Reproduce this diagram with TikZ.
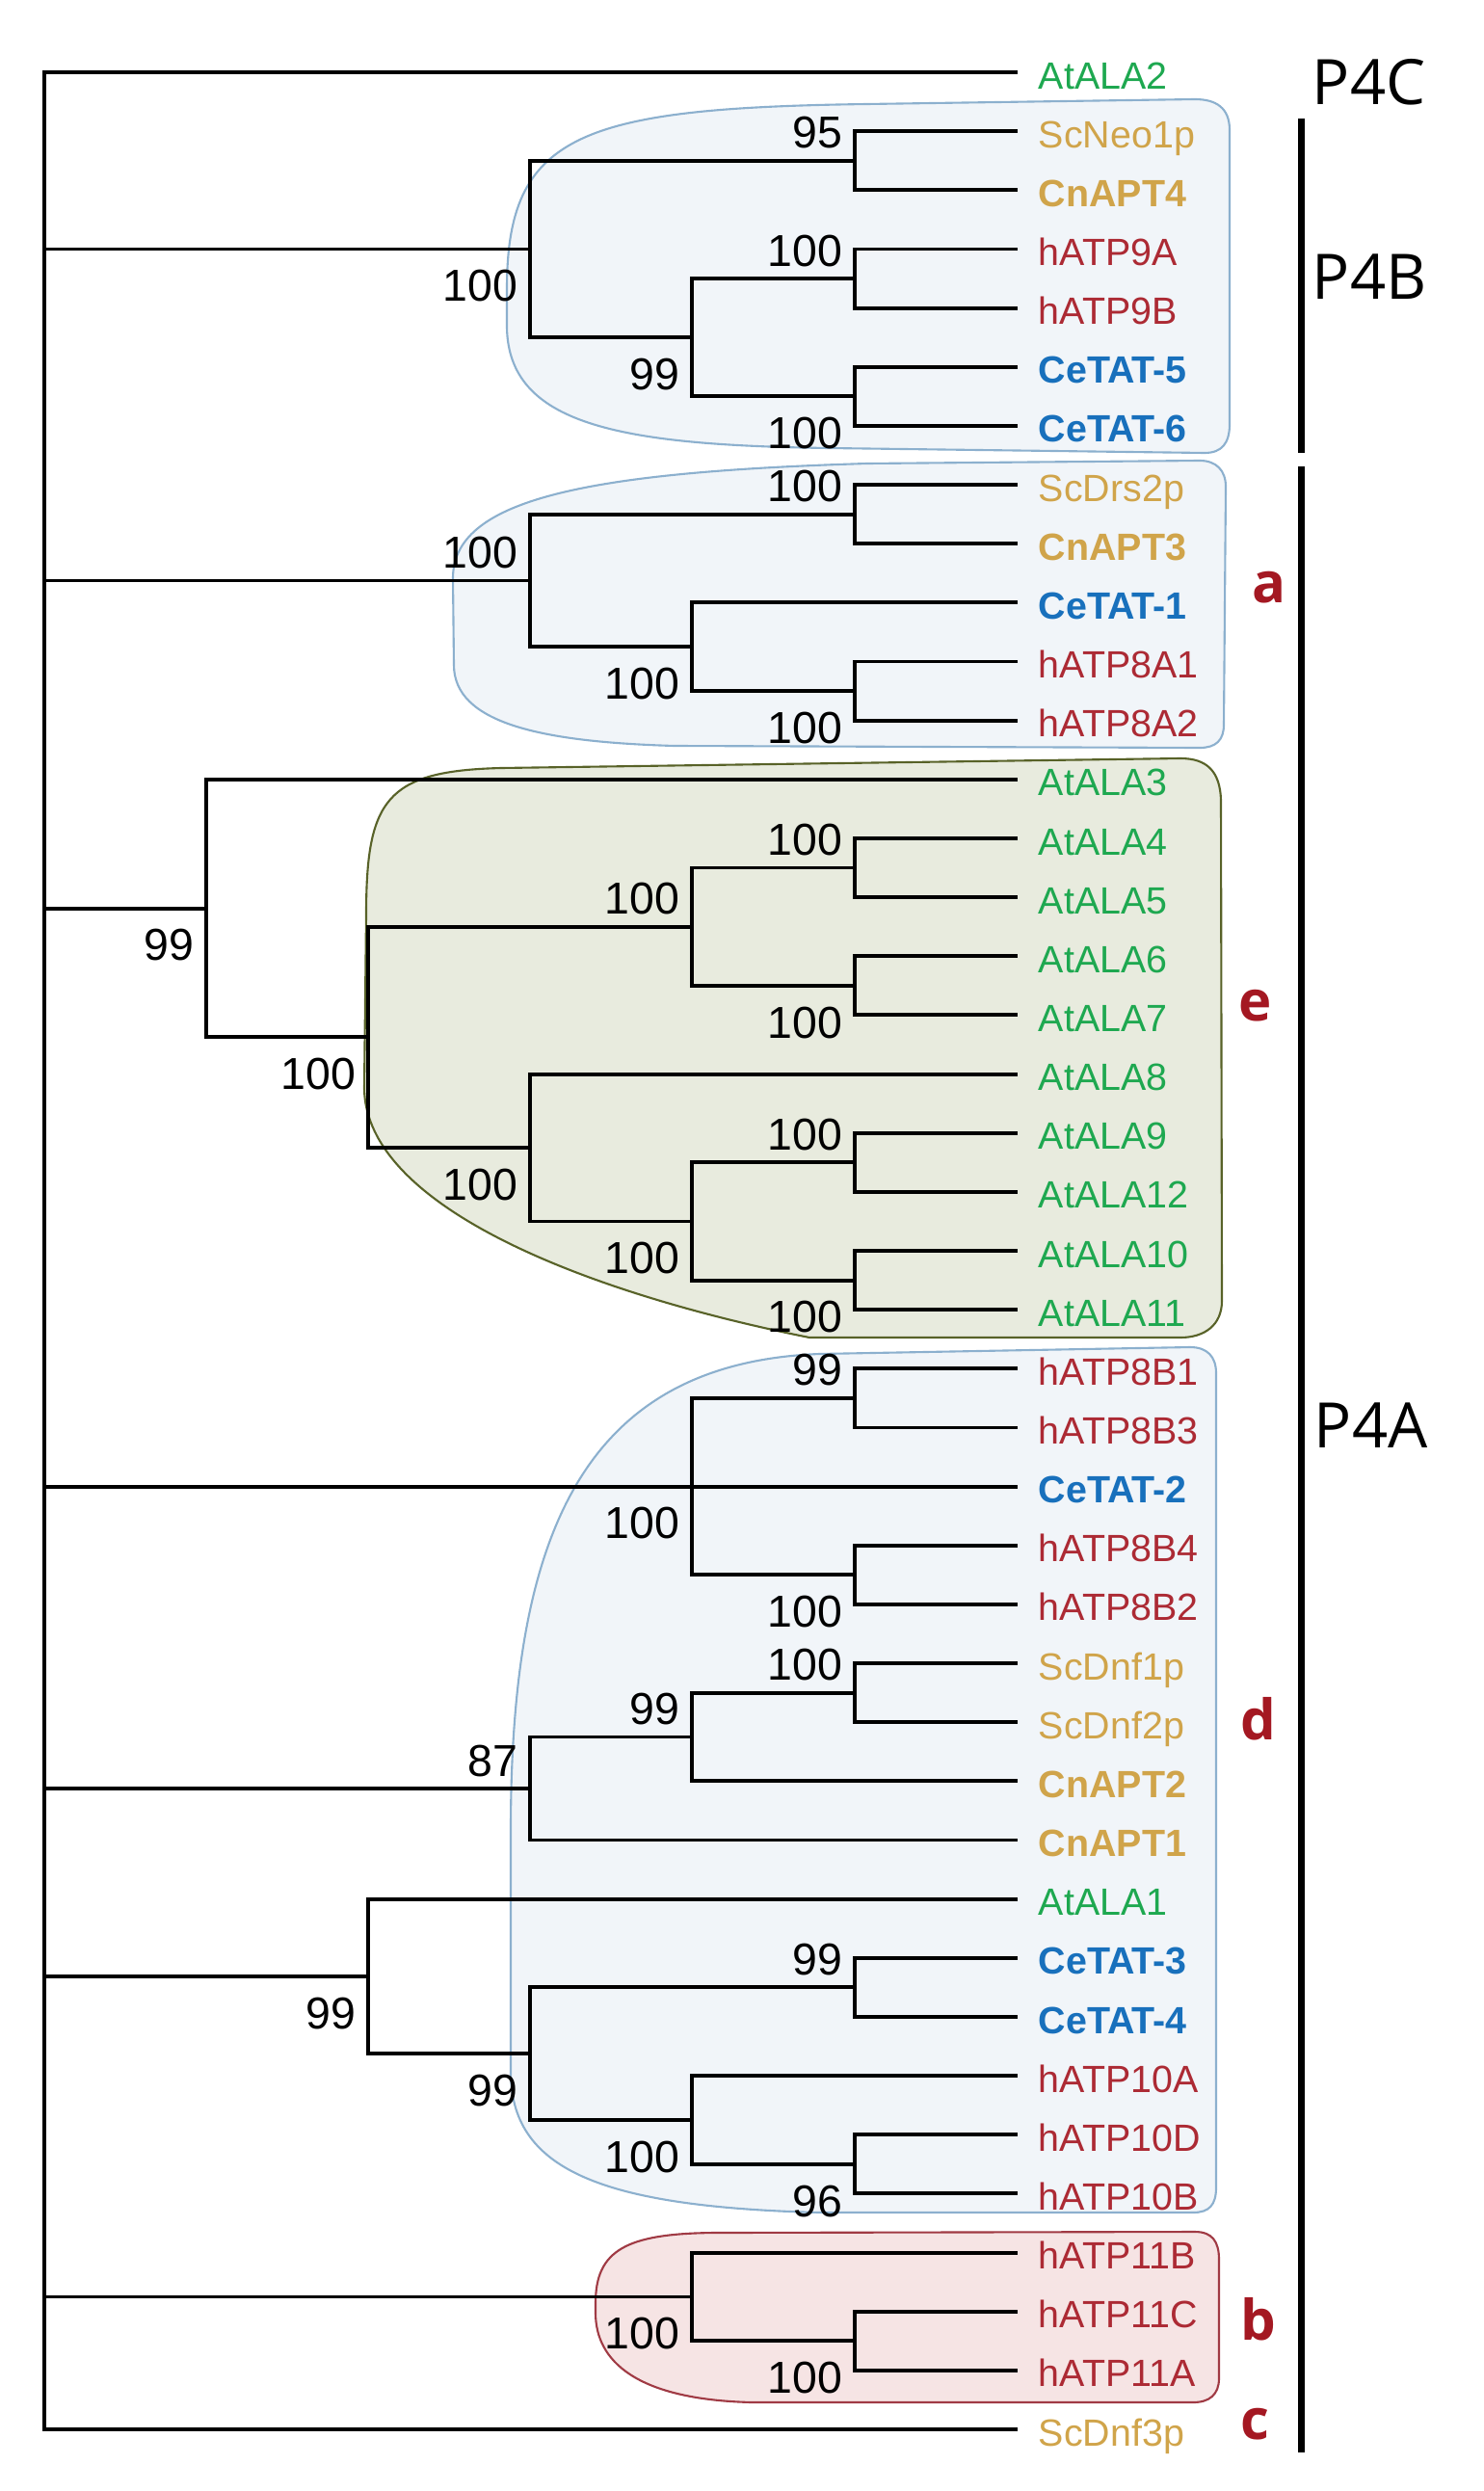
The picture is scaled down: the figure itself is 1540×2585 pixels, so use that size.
\documentclass[tikz,border=0pt]{standalone}
\usepackage{fontspec}
\setmainfont{Liberation Sans}
\newfontfamily\opensans{Open Sans}
\usepackage{tikz}

\definecolor{atgreen}{RGB}{30,168,80}
\definecolor{scgold}{RGB}{208,164,74}
\definecolor{ceblue}{RGB}{24,112,188}
\definecolor{hred}{RGB}{172,42,52}
\definecolor{cladered}{RGB}{164,24,34}
\definecolor{bluefill}{RGB}{241,245,249}
\definecolor{blueline}{RGB}{140,176,206}
\definecolor{olivefill}{RGB}{232,235,222}
\definecolor{oliveline}{RGB}{88,98,40}
\definecolor{pinkfill}{RGB}{246,228,228}
\definecolor{pinkline}{RGB}{160,58,68}

\begin{document}
\begin{tikzpicture}[x=0.01cm,y=-0.01cm,line width=1.1pt,
  leaf node/.style={anchor=west,inner xsep=0.2cm,inner ysep=0pt,text height=0.34cm,text depth=0pt,font=\fontsize{11.2}{13}\selectfont},
  ala node/.style={leaf node,text=atgreen},
  sc node/.style={leaf node,text=scgold},
  cn node/.style={sc node,font=\fontsize{11.2}{13}\selectfont\bfseries},
  ce node/.style={leaf node,text=ceblue,font=\fontsize{11.2}{13}\selectfont\bfseries},
  hatp node/.style={leaf node,text=hred},
  boot/.style={inner sep=0pt,text height=0.333cm,text depth=0pt,font=\fontsize{13.2}{15}\selectfont},
  boot above/.style={boot,anchor=south east,xshift=-0.11cm,yshift=0.11cm},
  boot below/.style={boot,anchor=north east,xshift=-0.11cm,yshift=-0.19cm},
  group box/.style={line width=0.6pt},
  class label/.style={anchor=base west,inner sep=0pt,font=\opensans\fontsize{18.5}{22}\selectfont},
  clade letter/.style={anchor=base west,inner sep=0pt,text=cladered,font=\opensans\bfseries\fontsize{16.5}{20}\selectfont},
  bar/.style={line width=2pt}]

  \useasboundingbox (0,0) rectangle (1540,2585);

  % shaded groups
  \draw[group box,fill=bluefill,draw=blueline] (526,300) .. controls (526,140) and (600,112) .. (900,108)
    -- (1240,103) .. controls (1262,103) and (1276,112) .. (1276,135) -- (1276,440)
    .. controls (1276,460) and (1268,470) .. (1250,470) -- (860,465)
    .. controls (640,462) and (528,440) .. (526,340) -- cycle;
  \draw[group box,fill=bluefill,draw=blueline] (470,600) .. controls (470,520) and (600,490) .. (900,481)
    -- (1245,478) .. controls (1262,478) and (1272,488) .. (1272,505) -- (1270,752)
    .. controls (1270,768) and (1262,776) .. (1245,776) -- (700,774)
    .. controls (560,770) and (471,750) .. (471,690) -- cycle;
  \draw[group box,fill=olivefill,draw=oliveline] (380,950) .. controls (380,830) and (400,800) .. (520,797)
    -- (1225,787) .. controls (1252,787) and (1266,800) .. (1267,830) -- (1268,1350)
    .. controls (1268,1375) and (1250,1388) .. (1225,1388) -- (840,1388)
    .. controls (600,1340) and (380,1250) .. (378,1130) -- cycle;
  \draw[group box,fill=bluefill,draw=blueline] (530,1900) .. controls (530,1600) and (600,1415) .. (850,1405)
    -- (1235,1398) .. controls (1253,1398) and (1262,1408) .. (1262,1425) -- (1262,2270)
    .. controls (1262,2288) and (1255,2296) .. (1238,2296) -- (850,2296)
    .. controls (620,2290) and (530,2250) .. (530,2150) -- cycle;
  \draw[group box,fill=pinkfill,draw=pinkline] (618,2390) .. controls (618,2335) and (650,2318) .. (740,2317)
    -- (1240,2316) .. controls (1258,2316) and (1265,2326) .. (1265,2345) -- (1265,2468)
    .. controls (1265,2485) and (1255,2493) .. (1238,2493) -- (780,2493)
    .. controls (660,2490) and (618,2450) .. (618,2400) -- cycle;

  % leaves
  \node[ala node] (AtALA2) at (1056,75.0) {AtALA2};
  \node[sc node] (ScNeo1p) at (1056,136.2) {ScNeo1p};
  \node[cn node] (CnAPT4) at (1056,197.3) {CnAPT4};
  \node[hatp node] (hATP9A) at (1056,258.5) {hATP9A};
  \node[hatp node] (hATP9B) at (1056,319.6) {hATP9B};
  \node[ce node] (CeTAT5) at (1056,380.8) {CeTAT-5};
  \node[ce node] (CeTAT6) at (1056,441.9) {CeTAT-6};
  \node[sc node] (ScDrs2p) at (1056,503.1) {ScDrs2p};
  \node[cn node] (CnAPT3) at (1056,564.2) {CnAPT3};
  \node[ce node] (CeTAT1) at (1056,625.4) {CeTAT-1};
  \node[hatp node] (hATP8A1) at (1056,686.5) {hATP8A1};
  \node[hatp node] (hATP8A2) at (1056,747.7) {hATP8A2};
  \node[ala node] (AtALA3) at (1056,808.8) {AtALA3};
  \node[ala node] (AtALA4) at (1056,870.0) {AtALA4};
  \node[ala node] (AtALA5) at (1056,931.1) {AtALA5};
  \node[ala node] (AtALA6) at (1056,992.3) {AtALA6};
  \node[ala node] (AtALA7) at (1056,1053.4) {AtALA7};
  \node[ala node] (AtALA8) at (1056,1114.6) {AtALA8};
  \node[ala node] (AtALA9) at (1056,1175.7) {AtALA9};
  \node[ala node] (AtALA12) at (1056,1236.9) {AtALA12};
  \node[ala node] (AtALA10) at (1056,1298.0) {AtALA10};
  \node[ala node] (AtALA11) at (1056,1359.2) {AtALA11};
  \node[hatp node] (hATP8B1) at (1056,1420.3) {hATP8B1};
  \node[hatp node] (hATP8B3) at (1056,1481.5) {hATP8B3};
  \node[ce node] (CeTAT2) at (1056,1542.6) {CeTAT-2};
  \node[hatp node] (hATP8B4) at (1056,1603.8) {hATP8B4};
  \node[hatp node] (hATP8B2) at (1056,1664.9) {hATP8B2};
  \node[sc node] (ScDnf1p) at (1056,1726.1) {ScDnf1p};
  \node[sc node] (ScDnf2p) at (1056,1787.2) {ScDnf2p};
  \node[cn node] (CnAPT2) at (1056,1848.4) {CnAPT2};
  \node[cn node] (CnAPT1) at (1056,1909.5) {CnAPT1};
  \node[ala node] (AtALA1) at (1056,1970.7) {AtALA1};
  \node[ce node] (CeTAT3) at (1056,2031.8) {CeTAT-3};
  \node[ce node] (CeTAT4) at (1056,2093.0) {CeTAT-4};
  \node[hatp node] (hATP10A) at (1056,2154.1) {hATP10A};
  \node[hatp node] (hATP10D) at (1056,2215.3) {hATP10D};
  \node[hatp node] (hATP10B) at (1056,2276.4) {hATP10B};
  \node[hatp node] (hATP11B) at (1056,2337.6) {hATP11B};
  \node[hatp node] (hATP11C) at (1056,2398.7) {hATP11C};
  \node[hatp node] (hATP11A) at (1056,2459.9) {hATP11A};
  \node[sc node] (ScDnf3p) at (1056,2521.0) {ScDnf3p};

  % inner nodes
  \coordinate (root) at (46,75);
  \coordinate (nNeo) at (887,166.75);
  \coordinate (n9) at (887,289.05);
  \coordinate (nT56) at (887,411.35);
  \coordinate (n9T) at (718,350.2);
  \coordinate (nP4B) at (550,258.5);
  \coordinate (nDrs) at (887,533.65);
  \coordinate (n8A) at (887,717.1);
  \coordinate (nT1) at (718,671.25);
  \coordinate (na) at (550,602.45);
  \coordinate (n45) at (887,900.55);
  \coordinate (n67) at (887,1022.85);
  \coordinate (n4567) at (718,961.7);
  \coordinate (n912) at (887,1206.3);
  \coordinate (n1011) at (887,1328.6);
  \coordinate (n9to11) at (718,1267.45);
  \coordinate (n8) at (550,1191.0);
  \coordinate (ne) at (382,1076.35);
  \coordinate (nAt3) at (214,942.6);
  \coordinate (n8B13) at (887,1450.9);
  \coordinate (n8B42) at (887,1634.35);
  \coordinate (n8B) at (718,1542.6);
  \coordinate (nDnf) at (887,1756.65);
  \coordinate (nAPT2) at (718,1802.5);
  \coordinate (n87) at (550,1856.0);
  \coordinate (nT34) at (887,2062.4);
  \coordinate (n10DB) at (887,2245.85);
  \coordinate (n10) at (718,2199.98);
  \coordinate (nT10) at (550,2131.2);
  \coordinate (nAt1) at (382,2050.95);
  \coordinate (n11CA) at (887,2429.3);
  \coordinate (n11) at (718,2383.45);

  % branches
  \draw (AtALA2.west) -| (root |- ScDnf3p.west) -- (ScDnf3p.west);
  \draw (ScNeo1p.west) -| (nNeo) |- (CnAPT4.west);
  \draw (hATP9A.west) -| (n9) |- (hATP9B.west);
  \draw (CeTAT5.west) -| (nT56) |- (CeTAT6.west);
  \draw (n9) -| (n9T) |- (nT56);
  \draw (nNeo) -| (nP4B) |- (n9T);
  \draw (root |- nP4B) -- (nP4B);
  \draw (ScDrs2p.west) -| (nDrs) |- (CnAPT3.west);
  \draw (hATP8A1.west) -| (n8A) |- (hATP8A2.west);
  \draw (CeTAT1.west) -| (nT1) |- (n8A);
  \draw (nDrs) -| (na) |- (nT1);
  \draw (root |- na) -- (na);
  \draw (AtALA4.west) -| (n45) |- (AtALA5.west);
  \draw (AtALA6.west) -| (n67) |- (AtALA7.west);
  \draw (n45) -| (n4567) |- (n67);
  \draw (AtALA9.west) -| (n912) |- (AtALA12.west);
  \draw (AtALA10.west) -| (n1011) |- (AtALA11.west);
  \draw (n912) -| (n9to11) |- (n1011);
  \draw (AtALA8.west) -| (n8) |- (n9to11);
  \draw (n4567) -| (ne) |- (n8);
  \draw (AtALA3.west) -| (nAt3) |- (ne);
  \draw (root |- nAt3) -- (nAt3);
  \draw (hATP8B1.west) -| (n8B13) |- (hATP8B3.west);
  \draw (hATP8B4.west) -| (n8B42) |- (hATP8B2.west);
  \draw (n8B13) -| (n8B) |- (n8B42);
  \draw (root |- n8B) -- (n8B) -- (CeTAT2.west);
  \draw (ScDnf1p.west) -| (nDnf) |- (ScDnf2p.west);
  \draw (nDnf) -| (nAPT2) |- (CnAPT2.west);
  \draw (nAPT2) -| (n87) |- (CnAPT1.west);
  \draw (root |- n87) -- (n87);
  \draw (CeTAT3.west) -| (nT34) |- (CeTAT4.west);
  \draw (hATP10D.west) -| (n10DB) |- (hATP10B.west);
  \draw (hATP10A.west) -| (n10) |- (n10DB);
  \draw (nT34) -| (nT10) |- (n10);
  \draw (AtALA1.west) -| (nAt1) |- (nT10);
  \draw (root |- nAt1) -- (nAt1);
  \draw (hATP11C.west) -| (n11CA) |- (hATP11A.west);
  \draw (hATP11B.west) -| (n11) |- (n11CA);
  \draw (root |- n11) -- (n11);

  % bootstrap values
  \node[boot above] (bNeo) at (nNeo) {95};
  \node[boot above] (b9) at (n9) {100};
  \node[boot below] (bT56) at (nT56) {100};
  \node[boot below] (b9T) at (n9T) {99};
  \node[boot below] (bP4B) at (nP4B) {100};
  \node[boot above] (bDrs) at (nDrs) {100};
  \node[boot below] (b8A) at (n8A) {100};
  \node[boot below] (bT1) at (nT1) {100};
  \node[boot above] (ba) at (na) {100};
  \node[boot above] (b45) at (n45) {100};
  \node[boot below] (b67) at (n67) {100};
  \node[boot above] (b4567) at (n4567) {100};
  \node[boot above] (b912) at (n912) {100};
  \node[boot below] (b1011) at (n1011) {100};
  \node[boot below] (b9to11) at (n9to11) {100};
  \node[boot below] (b8) at (n8) {100};
  \node[boot below] (be) at (ne) {100};
  \node[boot below] (bAt3) at (nAt3) {99};
  \node[boot above] (b8B13) at (n8B13) {99};
  \node[boot below] (b8B42) at (n8B42) {100};
  \node[boot below] (b8B) at (n8B) {100};
  \node[boot above] (bDnf) at (nDnf) {100};
  \node[boot above] (bAPT2) at (nAPT2) {99};
  \node[boot above] (b87) at (n87) {87};
  \node[boot above] (bT34) at (nT34) {99};
  \node[boot below] (b10DB) at (n10DB) {96};
  \node[boot below] (b10) at (n10) {100};
  \node[boot below] (bT10) at (nT10) {99};
  \node[boot below] (bAt1) at (nAt1) {99};
  \node[boot below] (b11CA) at (n11CA) {100};
  \node[boot below] (b11) at (n11) {100};

  % classes and clades
  \coordinate (barB1) at (1350.5,123);
  \coordinate (barB2) at (1350.5,470);
  \coordinate (barA1) at (1350.5,484);
  \coordinate (barA2) at (1350.5,2545);
  \draw[bar] (barB1) -- (barB2);
  \draw[bar] (barA1) -- (barA2);
  \node[class label] (P4C) at (1360,109) {P4C};
  \node[class label] (P4B) at (1360,311) {P4B};
  \node[class label] (P4A) at (1362,1502) {P4A};
  \node[clade letter] (ca) at (1298,625) {a};
  \node[clade letter] (ce) at (1284,1059) {e};
  \node[clade letter] (cd) at (1286,1805) {d};
  \node[clade letter] (cb) at (1286,2428) {b};
  \node[clade letter] (cc) at (1286,2531) {c};
\end{tikzpicture}
\end{document}
